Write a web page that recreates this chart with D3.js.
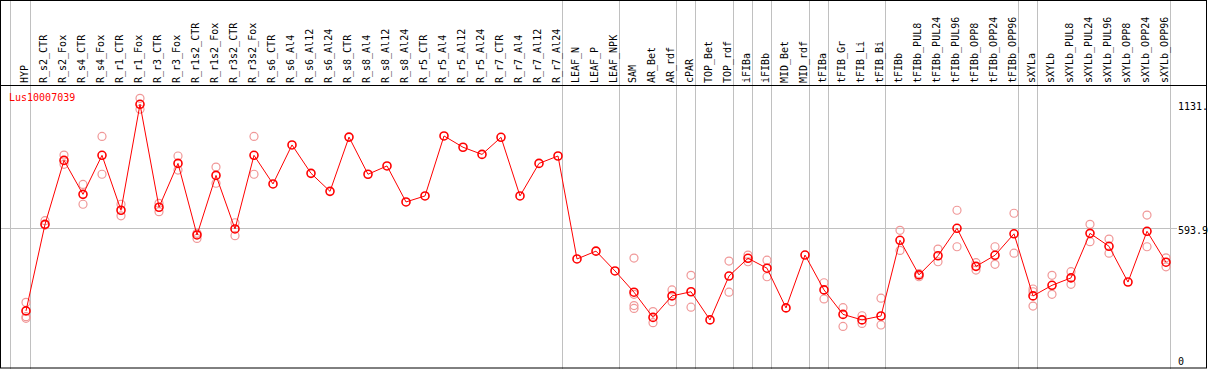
<html>
<script src="https://d3js.org/d3.v7.min.js"></script>
<style>
  body { margin: 0; background: #fff; }
  text { font-family: "DejaVu Sans Mono", monospace; font-size: 10px; }
</style>
<body>
<svg id="chart" width="1209" height="370"></svg>
<script>
var geneName = "Lus10007039";

var samples = ["HYP", "R_s2_CTR", "R_s2_Fox", "R_s4_CTR", "R_s4_Fox", "R_r1_CTR", "R_r1_Fox",
  "R_r3_CTR", "R_r3_Fox", "R_r1s2_CTR", "R_r1s2_Fox", "R_r3s2_CTR", "R_r3s2_Fox",
  "R_s6_CTR", "R_s6_Al4", "R_s6_Al12", "R_s6_Al24", "R_s8_CTR", "R_s8_Al4", "R_s8_Al12", "R_s8_Al24",
  "R_r5_CTR", "R_r5_Al4", "R_r5_Al12", "R_r5_Al24", "R_r7_CTR", "R_r7_Al4", "R_r7_Al12", "R_r7_Al24",
  "LEAF_N", "LEAF_P", "LEAF_NPK", "SAM", "AR_Bet", "AR_rdf", "cPAR", "TOP_Bet", "TOP_rdf",
  "iFIBa", "iFIBb", "MID_Bet", "MID_rdf", "tFIBa", "tFIB_Gr", "tFIB_Li", "tFIB_Bi", "tFIBb",
  "tFIBb_PUL8", "tFIBb_PUL24", "tFIBb_PUL96", "tFIBb_OPP8", "tFIBb_OPP24", "tFIBb_OPP96",
  "sXYLa", "sXYLb", "sXYLb_PUL8", "sXYLb_PUL24", "sXYLb_PUL96", "sXYLb_OPP8", "sXYLb_OPP24", "sXYLb_OPP96"];

// mean expression per sample
var means = [236, 611, 888, 741, 910, 672, 1131, 685, 875, 565, 823, 591, 910,
  786, 955, 832, 754, 989, 828, 864, 708,
  734, 994, 945, 914, 988, 734, 875, 907,
  461, 495, 409, 317, 208, 301, 319, 197, 387,
  464, 421, 249, 478, 327, 221, 197, 214, 542,
  392, 475, 594, 429, 477, 570,
  301, 347, 379, 572, 516, 361, 581, 447];

// replicate values (pale circles)
var replicates = [[273, 211, 204], [627, 608], [911, 871], [784, 698], [992, 828], [698, 648], [1157, 1110],
  [702, 666], [907, 846], [572, 550], [859, 789], [618, 562], [992, 828],
  [], [], [], [], [], [], [], [],
  [], [], [], [], [], [], [], [],
  [], [], [], [465, 308, 259, 247], [233, 185], [327, 276], [390, 252], [], [452, 317],
  [478, 449], [456, 384], [], [], [358, 288], [250, 169], [215, 182], [291, 175], [585, 498],
  [384, 398], [504, 449], [672, 514], [445, 413], [514, 438], [659, 486],
  [331, 319, 257], [390, 308], [406, 351], [611, 536], [547, 486], [], [651, 514], [466, 427]];

// last sample of each group (grey separators)
var groupEnds = ["HYP", "R_r7_Al24", "LEAF_NPK", "AR_rdf", "cPAR", "TOP_rdf", "iFIBa", "iFIBb",
  "MID_rdf", "tFIBa", "tFIB_Bi", "tFIBb_OPP96", "sXYLa", "sXYLb_OPP96"];

var yMax = 1131, yMean = 593.9;
var axisLabels = ["1131.", "593.9", "0"];

var svg = d3.select("#chart");

var x = d3.scaleBand().domain(samples).range([11, 11 + samples.length * 19]);
var y = d3.scaleLinear().domain([0, yMax]).range([365.4, 104.3]);
function cx(s) { return x(s) + 15; }

// vertical separators
svg.append("line")
  .attr("x1", 10.5).attr("x2", 10.5).attr("y1", 0).attr("y2", 369)
  .attr("stroke", "#c0c0c0");
svg.selectAll(".sep").data(groupEnds).enter().append("line")
  .attr("x1", function(d) { return x(d) + x.bandwidth() + 0.5; })
  .attr("x2", function(d) { return x(d) + x.bandwidth() + 0.5; })
  .attr("y1", 0).attr("y2", 369)
  .attr("stroke", "#c0c0c0");

// mean grid line
svg.append("line")
  .attr("x1", 0).attr("x2", 1177)
  .attr("y1", Math.round(y(yMean)) + 0.5).attr("y2", Math.round(y(yMean)) + 0.5)
  .attr("stroke", "#c0c0c0");

// frame
svg.append("rect").attr("x", 0.5).attr("y", 0.5).attr("width", 1206).attr("height", 367.5)
  .attr("fill", "none").attr("stroke", "#000");
svg.append("line").attr("x1", 0).attr("x2", 1207).attr("y1", 85.5).attr("y2", 85.5)
  .attr("stroke", "#000");

// sample labels
svg.selectAll(".lbl").data(samples).enter().append("text")
  .attr("transform", function(d) { return "translate(" + (cx(d) + 2) + ",83) rotate(-90)"; })
  .attr("fill", "#000")
  .text(function(d) { return d; });

// right axis labels
var axisVals = [yMax, yMean, 0];
svg.selectAll(".ax").data(axisVals).enter().append("text")
  .attr("x", 1178)
  .attr("y", function(d, i) { return i == 2 ? 365 : y(d) + 6; })
  .attr("fill", "#000")
  .text(function(d, i) { return axisLabels[i]; });

// gene title
svg.append("text").attr("x", 9).attr("y", 101).attr("fill", "#ff0000").text(geneName);

// replicate circles
var reps = [];
samples.forEach(function(s, i) {
  replicates[i].forEach(function(v) { reps.push({s: s, v: v}); });
});
svg.selectAll(".rep").data(reps).enter().append("circle")
  .attr("cx", function(d) { return cx(d.s); })
  .attr("cy", function(d) { return y(d.v); })
  .attr("r", 4)
  .attr("fill", "none")
  .attr("stroke", "#f09898")
  .attr("stroke-width", 1.2);

// mean line
var line = d3.line()
  .x(function(d, i) { return cx(samples[i]); })
  .y(function(d) { return y(d); });
svg.append("path").datum(means)
  .attr("d", line)
  .attr("fill", "none")
  .attr("stroke", "#ff0000")
  .attr("stroke-width", 1);

svg.selectAll(".mean").data(means).enter().append("circle")
  .attr("cx", function(d, i) { return cx(samples[i]); })
  .attr("cy", function(d) { return y(d); })
  .attr("r", 4)
  .attr("fill", "none")
  .attr("stroke", "#ff0000")
  .attr("stroke-width", 1.6);
</script>
</body>
</html>
